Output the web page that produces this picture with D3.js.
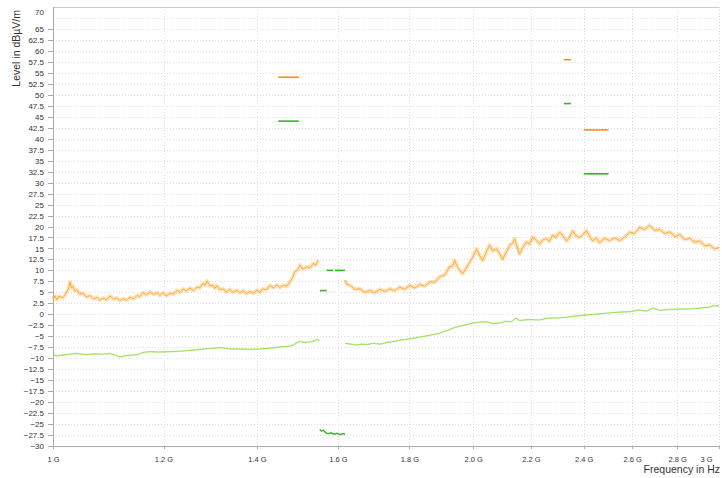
<!DOCTYPE html>
<html>
<head>
<meta charset="utf-8">
<script src="https://cdn.jsdelivr.net/npm/d3@7"></script>
<style>
  body { margin: 0; background: #fff; }
  svg { display: block; font-family: "Liberation Sans", Arial, sans-serif; }
  .axis text { font-size: 8px; fill: #333; }
  .x.axis text { font-size: 7.5px; }
  .axis path, .axis line { stroke: #aaa; shape-rendering: crispEdges; }
  .grid line { stroke: #ddd; stroke-dasharray: 1,2; shape-rendering: crispEdges; }
  .title { font-size: 10.5px; fill: #333; }
</style>
</head>
<body>
<svg id="chart" width="722" height="478"></svg>
<script>
// frequency in GHz, level in dBuV/m
const peakLow = [[1.000,3.4],[1.003,4.2],[1.0066,3.3],[1.010,4.1],[1.0166,3.8],[1.021,4.6],[1.025,5.6],[1.027,6.4],[1.0285,7.4],[1.031,6.0],[1.0335,6.4],[1.037,5.3],[1.040,5.6],[1.045,4.6],[1.0507,4.8],[1.057,3.9],[1.063,4.3],[1.069,3.5],[1.0753,3.9],[1.080,3.2],[1.086,3.7],[1.092,3.3],[1.0986,4.2],[1.105,3.5],[1.1112,3.7],[1.117,3.1],[1.1225,3.6],[1.129,3.2],[1.1355,3.9],[1.142,3.5],[1.1487,4.3],[1.154,4.0],[1.1601,5.0],[1.167,4.4],[1.1736,5.1],[1.180,4.5],[1.1872,4.9],[1.193,4.3],[1.199,4.9],[1.206,4.2],[1.213,4.8],[1.220,4.6],[1.2271,5.5],[1.233,5.0],[1.2392,5.8],[1.246,5.3],[1.2535,6.0],[1.261,5.4],[1.268,6.2],[1.274,6.0],[1.2805,7.0],[1.285,6.6],[1.289,7.6],[1.295,6.5],[1.3018,6.6],[1.306,5.9],[1.3104,6.5],[1.317,5.6],[1.3235,5.8],[1.331,5.1],[1.3388,5.7],[1.346,5.0],[1.3544,5.5],[1.361,4.9],[1.3679,5.4],[1.376,4.7],[1.3838,5.2],[1.392,4.8],[1.3999,5.5],[1.407,5.0],[1.4138,5.8],[1.422,5.6],[1.4302,6.6],[1.438,6.0],[1.4468,6.7],[1.454,6.1],[1.4612,6.6],[1.470,6.4],[1.4782,7.4],[1.484,8.2],[1.4905,9.7],[1.496,10.0],[1.503,11.2],[1.510,10.3],[1.5207,10.8],[1.528,10.6],[1.5361,11.6],[1.542,11.2],[1.5489,12.3]];

const peakHigh = [[1.619,7.8],[1.624,6.8],[1.6324,6.6],[1.645,5.7],[1.6595,5.8],[1.672,5.0],[1.687,5.4],[1.700,4.9],[1.715,5.7],[1.729,5.2],[1.7434,5.8],[1.757,5.4],[1.7722,6.2],[1.786,5.7],[1.8015,6.6],[1.816,6.0],[1.8313,6.8],[1.846,6.4],[1.8616,7.4],[1.877,7.3],[1.8924,8.6],[1.908,8.9],[1.9237,10.9],[1.932,10.8],[1.9396,12.3],[1.950,10.6],[1.9653,9.2],[1.976,10.4],[1.9881,11.8],[2.000,13.2],[2.0112,14.9],[2.021,13.4],[2.0312,12.2],[2.043,14.1],[2.0547,15.8],[2.066,14.4],[2.0786,14.9],[2.089,13.8],[2.0993,12.5],[2.111,14.0],[2.1237,15.7],[2.133,16.1],[2.1413,17.2],[2.150,15.4],[2.159,13.7],[2.171,15.3],[2.1841,16.5],[2.195,16.0],[2.2058,17.6],[2.218,17.0],[2.2314,16.0],[2.244,17.0],[2.2573,17.2],[2.268,16.6],[2.2798,18.0],[2.293,17.5],[2.3063,18.7],[2.320,17.8],[2.333,16.7],[2.345,17.6],[2.3563,19.0],[2.370,17.9],[2.3836,17.5],[2.397,18.1],[2.4113,19.1],[2.423,17.8],[2.4352,16.7],[2.450,17.4],[2.4636,16.3],[2.484,17.3],[2.5047,16.8],[2.525,17.4],[2.5466,16.8],[2.568,17.6],[2.589,18.7],[2.610,18.4],[2.6321,19.8],[2.654,19.3],[2.676,20.3],[2.698,19.1],[2.7205,19.3],[2.743,18.4],[2.766,18.8],[2.789,17.7],[2.812,18.2],[2.835,17.0],[2.8589,17.3],[2.882,16.4],[2.9065,16.7],[2.930,15.6],[2.9551,15.8],[2.978,14.9],[3.000,15.2]];

const avgLow = [[1.000,-8.8],[1.004,-9.5],[1.015,-9.3],[1.028,-9.1],[1.040,-8.9],[1.055,-9.2],[1.070,-9.0],[1.086,-9.1],[1.0986,-8.9],[1.110,-9.4],[1.117,-9.7],[1.125,-9.5],[1.1355,-9.3],[1.150,-9.2],[1.160,-8.7],[1.1736,-8.5],[1.190,-8.6],[1.213,-8.5],[1.235,-8.4],[1.255,-8.2],[1.2745,-8.0],[1.295,-7.8],[1.317,-7.6],[1.340,-7.9],[1.362,-7.9],[1.384,-8.0],[1.405,-7.9],[1.421,-7.8],[1.440,-7.6],[1.460,-7.4],[1.475,-7.3],[1.486,-7.0],[1.495,-6.5],[1.503,-6.2],[1.515,-6.4],[1.529,-6.3],[1.540,-6.0],[1.545,-5.7],[1.552,-6.1]];

const avgHigh = [[1.619,-6.6],[1.635,-6.8],[1.650,-7.0],[1.665,-6.8],[1.680,-6.9],[1.695,-6.6],[1.715,-6.8],[1.735,-6.4],[1.755,-6.2],[1.772,-5.9],[1.800,-5.6],[1.830,-5.2],[1.860,-4.8],[1.892,-4.3],[1.920,-3.6],[1.940,-3.0],[1.955,-2.7],[1.975,-2.4],[2.000,-2.0],[2.021,-1.8],[2.045,-1.7],[2.065,-2.1],[2.089,-2.0],[2.110,-1.6],[2.130,-1.7],[2.145,-0.9],[2.159,-1.4],[2.190,-1.2],[2.231,-1.3],[2.260,-0.9],[2.306,-0.8],[2.340,-0.6],[2.384,-0.3],[2.420,-0.1],[2.464,0.1],[2.500,0.3],[2.547,0.5],[2.590,0.6],[2.632,1.0],[2.660,0.7],[2.690,1.4],[2.720,0.9],[2.760,1.1],[2.812,1.2],[2.860,1.2],[2.906,1.4],[2.950,1.6],[2.975,2.0],[3.000,1.9]];

const avgDip = [[1.553,-26.2],[1.557,-26.6],[1.562,-26.4],[1.568,-27.0],[1.575,-27.2],[1.582,-27.0],[1.590,-27.3],[1.598,-27.1],[1.605,-27.4],[1.612,-27.2],[1.619,-27.3]];

// limit segments: [from GHz, to GHz, level]
const peakLimits = [[1.45,1.50,54],[2.3225,2.35,58],[2.40,2.50,42]];
const avgLimits = [[1.45,1.50,44],[2.3225,2.35,48],[2.40,2.50,32],[1.5705,1.588,10],[1.592,1.619,10],[1.553,1.5705,5.4]];

const xTicks = [1,1.2,1.4,1.6,1.8,2.0,2.2,2.4,2.6,2.8,3];
const xTickLabels = ['1 G','1.2 G','1.4 G','1.6 G','1.8 G','2.0 G','2.2 G','2.4 G','2.6 G','2.8 G','3 G'];
const yTicks = d3.range(-30, 65.1, 2.5);
const yGrid = d3.range(-30, 67.6, 2.5);

const svg = d3.select('#chart');
const padL = 53, padR = 719, padT = 7, padB = 446;

const x = d3.scaleLog().domain([1, 3]).range([padL, padR]);
const y = d3.scaleLinear().domain([-30, 70]).range([padB, padT]);

// grid
const grid = svg.append('g').attr('class', 'grid');
grid.selectAll('.h').data(yGrid).join('line')
  .attr('x1', padL).attr('x2', padR)
  .attr('y1', d => Math.round(y(d)) + 0.5).attr('y2', d => Math.round(y(d)) + 0.5);
grid.selectAll('.v').data(xTicks.slice(1)).join('line')
  .attr('x1', d => Math.round(x(d)) + 0.5).attr('x2', d => Math.round(x(d)) + 0.5)
  .attr('y1', padT).attr('y2', padB);
svg.append('line').attr('x1', padL).attr('x2', padR).attr('y1', padT + 0.5).attr('y2', padT + 0.5)
  .attr('stroke', '#ccc');

// axes
const yAxis = svg.append('g').attr('class', 'y axis').attr('transform', `translate(${padL},0)`)
  .call(d3.axisLeft(y).tickValues(yTicks.concat([70])).tickSize(5).tickPadding(4)
    .tickFormat(d => d3.format('')(d)));
yAxis.selectAll('.tick').filter(d => d === 70).select('line').remove();
yAxis.selectAll('.tick').filter(d => d === 70).select('text').attr('dy', '0.9em');

const xAxis = svg.append('g').attr('class', 'x axis').attr('transform', `translate(0,${padB})`)
  .call(d3.axisBottom(x).tickValues(xTicks).tickSize(3).tickPadding(8)
    .tickFormat((d, i) => xTickLabels[i]));
xAxis.selectAll('.tick').filter(d => d === 3).select('text').attr('text-anchor', 'end').attr('dx', -7);
xAxis.select('.domain').attr('d', `M${padL},0.5H${padR}`);
yAxis.select('.domain').attr('d', `M0.5,${padT}V${padB}`);

svg.append('text').attr('class', 'title')
  .attr('transform', 'translate(20,10) rotate(-90)').attr('text-anchor', 'end')
  .text('Level in dBµV/m');
svg.append('text').attr('class', 'title')
  .attr('x', 720).attr('y', 473).attr('text-anchor', 'end')
  .text('Frequency in Hz');

// traces
const line = d3.line().x(d => x(d[0])).y(d => y(d[1]));
const plot = svg.append('g');

function trace(data, color, band, core, bandOpacity) {
  plot.append('path').attr('d', line(data)).attr('fill', 'none')
    .attr('stroke', color).attr('stroke-width', band).attr('stroke-opacity', bandOpacity)
    .attr('stroke-linejoin', 'round');
  plot.append('path').attr('d', line(data)).attr('fill', 'none')
    .attr('stroke', color).attr('stroke-width', core).attr('stroke-linejoin', 'round');
}

trace(peakLow, '#ffa42c', 4, 0.9, 0.3);
trace(peakHigh, '#ffa42c', 4, 0.9, 0.3);
trace(avgLow, '#8fdc45', 1.6, 0.8, 0.35);
trace(avgHigh, '#8fdc45', 1.6, 0.8, 0.35);
trace(avgDip, '#3cb521', 1.8, 1.2, 0.35);

function limits(data, color) {
  plot.selectAll(null).data(data).join('line')
    .attr('x1', d => x(d[0])).attr('x2', d => x(d[1]))
    .attr('y1', d => y(d[2])).attr('y2', d => y(d[2]))
    .attr('stroke', color).attr('stroke-width', 1.6);
}
limits(peakLimits, '#ff8c1a');
limits(avgLimits, '#33b81f');
</script>
</body>
</html>
